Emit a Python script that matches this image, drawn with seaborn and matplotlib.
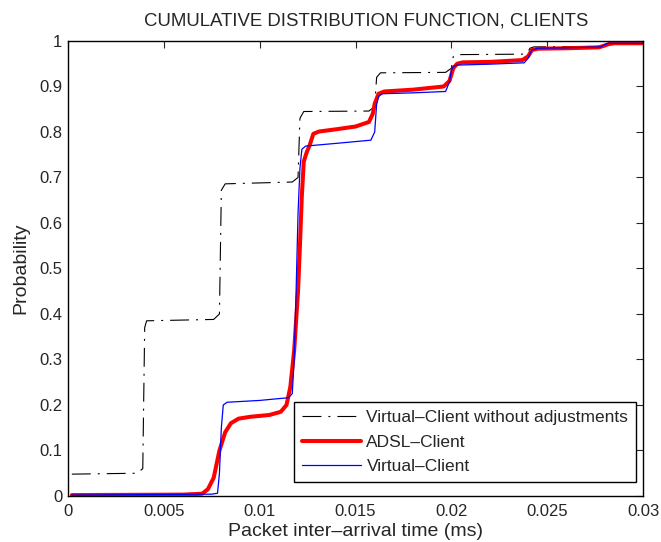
import matplotlib
matplotlib.use("Agg")
import matplotlib.pyplot as plt
import pandas as pd
import seaborn as sns

# CDF, inter-arrival time in ms vs probability
noadj_x = [0.0002, 0.0036, 0.0039, 0.0040, 0.0041, 0.0076, 0.0079, 0.0080, 0.0082,
           0.0117, 0.0120, 0.0121, 0.0123, 0.0157, 0.0160, 0.0161, 0.0163,
           0.0197, 0.0200, 0.0201, 0.0203, 0.0237, 0.0240, 0.0241, 0.0243,
           0.0277, 0.0280, 0.0281, 0.0283, 0.0300]
noadj_y = [0.048, 0.050, 0.060, 0.370, 0.385, 0.388, 0.400, 0.672, 0.686,
           0.690, 0.700, 0.830, 0.845, 0.846, 0.856, 0.920, 0.930,
           0.931, 0.940, 0.966, 0.970, 0.971, 0.976, 0.984, 0.987,
           0.988, 0.990, 0.993, 0.995, 0.995]

adsl_x = [0.0002, 0.0060, 0.0070, 0.0073, 0.0076, 0.0079, 0.0082, 0.0085, 0.0089,
          0.0095, 0.0105, 0.0111, 0.0114, 0.0116, 0.0118, 0.0120, 0.0121,
          0.0122, 0.0123, 0.01245, 0.0126, 0.0128, 0.0131, 0.0140, 0.0150,
          0.0157, 0.0159, 0.0160, 0.0162, 0.0165, 0.0180, 0.0196, 0.0199,
          0.0201, 0.0203, 0.0206, 0.0220, 0.0237, 0.0240, 0.0242, 0.0245,
          0.0260, 0.0277, 0.0280, 0.0282, 0.0285, 0.0300]
adsl_y = [0.002, 0.003, 0.005, 0.015, 0.040, 0.100, 0.140, 0.160, 0.170,
          0.174, 0.178, 0.185, 0.200, 0.240, 0.320, 0.450, 0.550,
          0.660, 0.735, 0.755, 0.770, 0.796, 0.801, 0.806, 0.812,
          0.822, 0.840, 0.862, 0.884, 0.889, 0.893, 0.900, 0.912,
          0.940, 0.950, 0.953, 0.954, 0.958, 0.966, 0.980, 0.983,
          0.984, 0.986, 0.990, 0.993, 0.995, 0.995]

virt_x = [0.0002, 0.0075, 0.0078, 0.0079, 0.0080, 0.0081, 0.0083, 0.0100, 0.0115,
          0.0117, 0.0118, 0.0119, 0.0120, 0.0121, 0.0122, 0.0124, 0.0140,
          0.0158, 0.0160, 0.0161, 0.0162, 0.0164, 0.0180, 0.0197, 0.0199,
          0.0200, 0.0201, 0.0203, 0.0220, 0.0238, 0.0240, 0.0242, 0.0245,
          0.0260, 0.0278, 0.0280, 0.0282, 0.0300]
virt_y = [0.002, 0.004, 0.006, 0.050, 0.150, 0.200, 0.206, 0.210, 0.216,
          0.225, 0.300, 0.450, 0.620, 0.720, 0.762, 0.769, 0.775,
          0.782, 0.800, 0.860, 0.878, 0.884, 0.886, 0.889, 0.910,
          0.935, 0.944, 0.947, 0.949, 0.952, 0.962, 0.980, 0.984,
          0.985, 0.987, 0.992, 0.995, 0.995]

labels = ["Virtual–Client without adjustments", "ADSL–Client", "Virtual–Client"]

sns.set_style("white")
plt.rcParams["font.family"] = ["Liberation Sans", "DejaVu Sans"]
plt.rcParams["xtick.direction"] = "in"
plt.rcParams["ytick.direction"] = "in"

fig = plt.figure(figsize=(6.61, 5.42), dpi=100)
ax = fig.add_axes([0.1029, 0.0849, 0.8699, 0.8395])

df_noadj = pd.DataFrame({"x": noadj_x, "y": noadj_y})
df_adsl = pd.DataFrame({"x": adsl_x, "y": adsl_y})
df_virt = pd.DataFrame({"x": virt_x, "y": virt_y})

sns.lineplot(data=df_noadj, x="x", y="y", ax=ax, color="black", lw=0.8,
             linestyle=(0, (17, 6.3, 1.8, 6.3)), label=labels[0])
sns.lineplot(data=df_adsl, x="x", y="y", ax=ax, color="#ff0000", lw=2.9, label=labels[1])
sns.lineplot(data=df_virt, x="x", y="y", ax=ax, color="#0000ff", lw=0.9, label=labels[2])

ax.set_xlim(0, 0.03)
ax.set_ylim(0, 1)
ax.set_xticks([0, 0.005, 0.01, 0.015, 0.02, 0.025, 0.03])
ax.set_xticklabels(["0", "0.005", "0.01", "0.015", "0.02", "0.025", "0.03"])
ax.set_yticks([i / 10 for i in range(11)])
ax.set_yticklabels(["0", "0.1", "0.2", "0.3", "0.4", "0.5", "0.6", "0.7", "0.8", "0.9", "1"])
ax.tick_params(labelsize=12, length=5, width=0.8, top=True, right=True)
ax.tick_params(axis="x", pad=6)
ax.tick_params(axis="y", pad=4)
for s in ax.spines.values():
    s.set_color("black")
    s.set_linewidth(1.0)

ax.set_title("CUMULATIVE DISTRIBUTION FUNCTION, CLIENTS", fontsize=13.4, pad=11, x=0.518)
ax.set_xlabel("Packet inter–arrival time (ms)", fontsize=14, labelpad=3)
ax.set_ylabel("Probability", fontsize=14, labelpad=7)

leg = ax.legend(loc="lower right", bbox_to_anchor=(0.988, 0.031), borderaxespad=0,
                fontsize=12.5, fancybox=False, framealpha=1, edgecolor="black",
                handlelength=3.4, handletextpad=0.33, labelspacing=0.53, borderpad=0.45)
leg.get_frame().set_linewidth(1.0)

fig.savefig("out.png", dpi=100)
